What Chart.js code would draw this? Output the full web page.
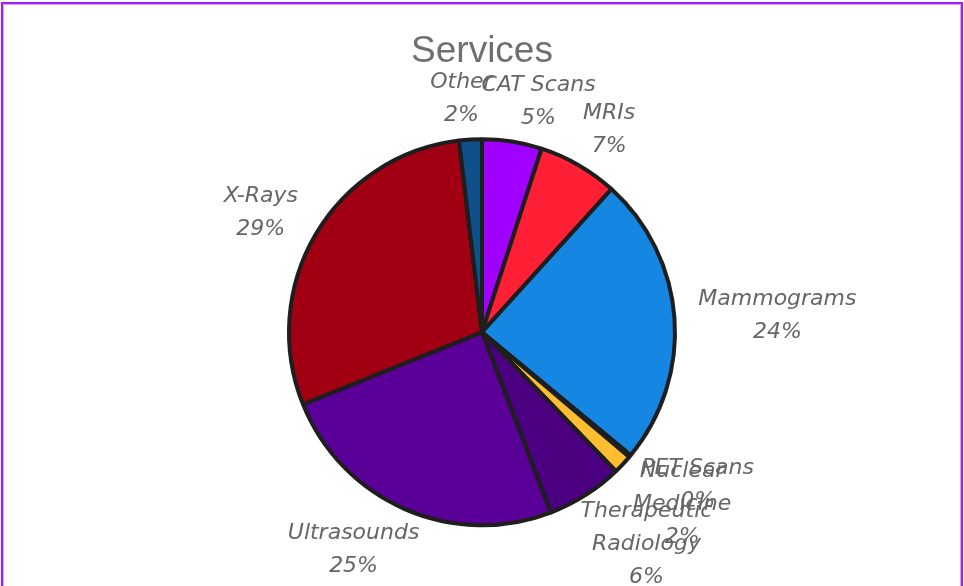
<!DOCTYPE html>
<html>
<head>
<meta charset="utf-8">
<script src="https://cdn.jsdelivr.net/npm/chart.js@4/dist/chart.umd.min.js"></script>
<style>
  html, body { margin: 0; padding: 0; background: #fff; }
  #frame {
    position: absolute; left: 1px; top: 2px; width: 958px; height: 600px;
    border: 2px solid #a41cf5; box-shadow: 0 0 0 1px #d9a6fb inset;
  }
  #wrap { position: absolute; left: 0; top: 0; width: 964px; height: 586px; }
</style>
</head>
<body>
<div id="frame"></div>
<div id="wrap"><canvas id="chart"></canvas></div>
<script>
// data (percent of services)
var categories = ['CAT Scans', 'MRIs', 'Mammograms', 'PET Scans', 'Nuclear Medicine',
                  'Therapeutic Radiology', 'Ultrasounds', 'X-Rays', 'Other'];
var values = [5, 6.7, 24.3, 0.2, 1.6, 6.4, 24.7, 29.2, 1.9];
// how the category names wrap in the labels
var labelLines = [['CAT Scans'], ['MRIs'], ['Mammograms'], ['PET Scans'], ['Nuclear', 'Medicine'],
                  ['Therapeutic', 'Radiology'], ['Ultrasounds'], ['X-Rays'], ['Other']];
var colors = ['#9f00ff', '#ff2035', '#1586e2', '#3b7dd8', '#ffbe30',
              '#4a0080', '#5a0099', '#a00012', '#10508a'];

var LABEL_FONT = 'italic 22px "DejaVu Sans", Verdana, sans-serif';
var LABEL_LINE = 33;

// labels drawn outside each slice
var outsideLabels = {
    id: 'outsideLabels',
    afterDatasetsDraw: function(chart) {
        var ctx = chart.ctx;
        var meta = chart.getDatasetMeta(0);
        var total = values.reduce(function(a, b) { return a + b; }, 0);
        ctx.save();
        ctx.font = LABEL_FONT;
        ctx.fillStyle = '#666666';
        ctx.textAlign = 'center';
        ctx.textBaseline = 'middle';
        meta.data.forEach(function(arc, i) {
            var mid = (arc.startAngle + arc.endAngle) / 2;
            var ux = Math.cos(mid), uy = Math.sin(mid);
            var lines = labelLines[i].concat([Math.round(values[i] / total * 100) + '%']);
            var w = 0;
            lines.forEach(function(l) { w = Math.max(w, ctx.measureText(l).width); });
            var h = lines.length * LABEL_LINE;
            var sx = (ux < 0 ? -1 : 1) * Math.sqrt(Math.abs(ux));
            var cx = arc.x + ux * (arc.outerRadius + 24) + sx * w / 2;
            var cy = arc.y + uy * (arc.outerRadius + 16) + uy * h / 2 * (uy < 0 ? 0.75 : 0.85);
            lines.forEach(function(l, k) {
                ctx.fillText(l, cx, cy - h / 2 + LABEL_LINE * (k + 0.5));
            });
        });
        ctx.restore();
    }
};

var myChart = new Chart(document.getElementById('chart'), {
    type: 'pie',
    data: {
        labels: categories,
        datasets: [{
            data: values,
            backgroundColor: colors,
            borderColor: '#1e1e1e',
            borderWidth: 4
        }]
    },
    options: {
        responsive: true,
        maintainAspectRatio: false,
        animation: false,
        radius: 193,
        layout: { padding: { top: 30, bottom: 0, left: 0, right: 0 } },
        plugins: {
            legend: { display: false },
            tooltip: { enabled: false },
            title: {
                display: true,
                text: 'Services',
                color: '#6f6f6f',
                font: { family: '"Liberation Sans", Arial, sans-serif', size: 37, weight: 'normal' },
                padding: { top: 0, bottom: 4 }
            }
        }
    },
    plugins: [outsideLabels]
});
</script>
</body>
</html>
